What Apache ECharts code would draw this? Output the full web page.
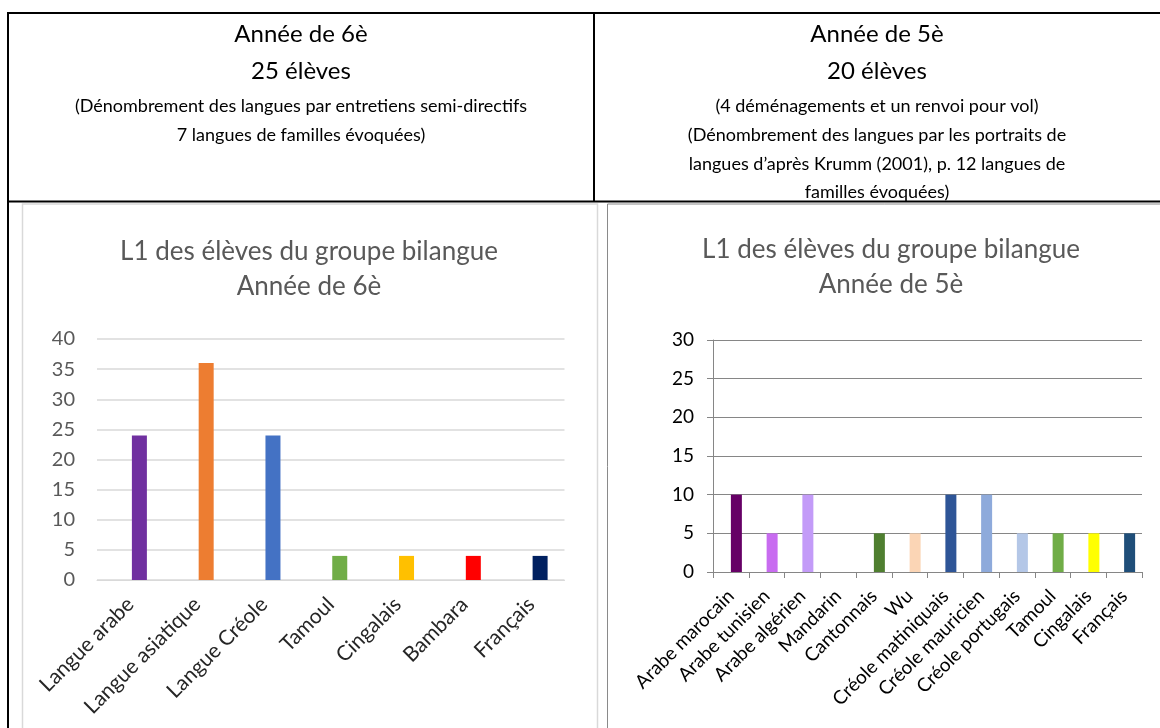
<!DOCTYPE html>
<html><head><meta charset="utf-8">
<script src="https://cdn.jsdelivr.net/npm/echarts@6/dist/echarts.min.js"></script>
<style>html,body{margin:0;padding:0;background:#fff}#c{width:1160px;height:728px}</style>
</head><body><div id="c"></div>
<script>
// ---- data ----
const header6 = ['Année de 6è', '25 élèves', '(Dénombrement des langues par entretiens semi-directifs', '7 langues de familles évoquées)'];
const header5 = ['Année de 5è', '20 élèves', '(4 déménagements et un renvoi pour vol)', '(Dénombrement des langues par les portraits de', 'langues d’après Krumm (2001), p. 12 langues de', 'familles évoquées)'];
const title6 = 'L1 des élèves du groupe bilangue\nAnnée de 6è';
const title5 = 'L1 des élèves du groupe bilangue\nAnnée de 5è';
const cats6 = ['Langue arabe', 'Langue asiatique', 'Langue Créole', 'Tamoul', 'Cingalais', 'Bambara', 'Français'];
const vals6 = [24, 36, 24, 4, 4, 4, 4];
const colors6 = ['#7030a0', '#ed7d31', '#4472c4', '#70ad47', '#ffc000', '#ff0000', '#002060'];
const yTicks6 = [0, 5, 10, 15, 20, 25, 30, 35, 40];
const cats5 = ['Arabe marocain', 'Arabe tunisien', 'Arabe algérien', 'Mandarin', 'Cantonnais', 'Wu', 'Créole matiniquais', 'Créole mauricien', 'Créole portugais', 'Tamoul', 'Cingalais', 'Français'];
const vals5 = [10, 5, 10, 0, 5, 5, 10, 10, 5, 5, 5, 5];
const colors5 = ['#660066', '#c86cf0', '#c39bf8', '#808080', '#4f7f30', '#fbd5b5', '#2e5597', '#8eaadb', '#b4c7e7', '#70ad47', '#ffff00', '#1f4e79'];
const yTicks5 = [0, 5, 10, 15, 20, 25, 30];

// ---- layout / style ----
const FONT = 'Lato';
const chart = echarts.init(document.getElementById('c'), null, {renderer: 'canvas'});

const graphics = [];
function line(x1, y1, x2, y2, w, c) {
  graphics.push({type: 'line', shape: {x1, y1, x2, y2}, style: {stroke: c, lineWidth: w}, z: 10});
}
function headerText(lines, cx, ys, sizes) {
  lines.forEach((t, i) => {
    graphics.push({type: 'text', x: cx, y: ys[i], style: {text: t, fill: '#000', font: sizes[i] + 'px ' + FONT, align: 'center', verticalAlign: 'middle'}, z: 10});
  });
}
// table borders
line(8, 13, 1160, 13, 2, '#000');
line(8, 12, 8, 728, 2, '#000');
line(594, 12, 594, 202, 2, '#000');
line(8, 201.5, 1160, 201.5, 2, '#000');
// chart frames
graphics.push({type: 'rect', shape: {x: 22.5, y: 204, width: 575, height: 600}, style: {fill: 'none', stroke: '#d9d9d9', lineWidth: 1.5}, z: 1});
graphics.push({type: 'rect', shape: {x: 607.5, y: 204, width: 575, height: 600}, style: {fill: 'none', stroke: '#8a8a8a', lineWidth: 1}, z: 1});
headerText(header6, 301, [34, 71, 106, 135], [24, 24, 18, 18]);
headerText(header5, 877, [34, 71, 106, 135, 164, 192], [24, 24, 18, 18, 18, 18]);

function mkData(vals, colors) {
  return vals.map((v, i) => ({value: v, itemStyle: {color: colors[i]}}));
}

const titleStyle = {fontFamily: FONT, fontSize: 26, fontWeight: 'normal', color: '#595959', lineHeight: 35};
const option = {
  animation: false,
  textStyle: {fontFamily: FONT},
  title: [
    {text: title6, left: 309, top: 234, padding: 0, textAlign: 'center', textStyle: titleStyle},
    {text: title5, left: 891, top: 232, padding: 0, textAlign: 'center', textStyle: titleStyle}
  ],
  grid: [
    {left: 97, top: 339, width: 467.5, height: 241, containLabel: false},
    {left: 713, top: 340, width: 429, height: 232, containLabel: false}
  ],
  xAxis: [
    {type: 'category', gridIndex: 0, data: cats6,
     axisLine: {show: true, lineStyle: {color: '#d9d9d9', width: 1}},
     axisTick: {show: false},
     axisLabel: {rotate: 45, margin: 21, fontSize: 21, color: '#262626', fontFamily: FONT, interval: 0}},
    {type: 'category', gridIndex: 1, data: cats5,
     axisLine: {show: true, lineStyle: {color: '#868686', width: 1}},
     axisTick: {show: true, length: 6, lineStyle: {color: '#868686'}},
     axisLabel: {rotate: 45, margin: 21, fontSize: 19, color: '#000', fontFamily: FONT, interval: 0}}
  ],
  yAxis: [
    {type: 'value', gridIndex: 0, min: yTicks6[0], max: yTicks6[yTicks6.length - 1], interval: yTicks6[1] - yTicks6[0],
     axisLine: {show: false}, axisTick: {show: false},
     splitLine: {show: true, lineStyle: {color: '#d9d9d9', width: 1.5}},
     axisLabel: {fontSize: 20, color: '#595959', margin: 22, fontFamily: FONT}},
    {type: 'value', gridIndex: 1, min: yTicks5[0], max: yTicks5[yTicks5.length - 1], interval: yTicks5[1] - yTicks5[0],
     axisLine: {show: true, lineStyle: {color: '#868686'}},
     axisTick: {show: true, length: 6, lineStyle: {color: '#868686'}},
     splitLine: {show: true, lineStyle: {color: '#868686', width: 1}},
     axisLabel: {fontSize: 19, color: '#000', margin: 19, fontFamily: FONT}}
  ],
  series: [
    {type: 'bar', xAxisIndex: 0, yAxisIndex: 0, data: [], barWidth: 15, barGap: '20%', silent: true},
    {type: 'bar', name: '6è', xAxisIndex: 0, yAxisIndex: 0, data: mkData(vals6, colors6), barWidth: 15, barGap: '20%'},
    {type: 'bar', xAxisIndex: 1, yAxisIndex: 1, data: [], barWidth: 11, barGap: '0%', silent: true},
    {type: 'bar', name: '5è', xAxisIndex: 1, yAxisIndex: 1, data: mkData(vals5, colors5), barWidth: 11, barGap: '0%'}
  ],
  graphic: graphics
};
chart.setOption(option);
</script>
</body></html>
